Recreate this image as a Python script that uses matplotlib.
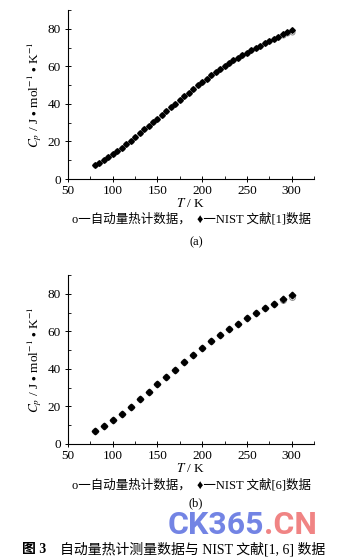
import matplotlib
matplotlib.use("Agg")
import matplotlib.pyplot as plt
from matplotlib.ticker import MultipleLocator

plt.rcParams['font.family'] = ['Liberation Serif', 'Noto Sans CJK SC', 'DejaVu Sans']
plt.rcParams['mathtext.fontset'] = 'stix'

# (a) data, every 5 K
T_a = [80, 85, 90, 95, 100, 105, 110, 115, 120, 125, 130, 135, 140, 145, 150,
       155, 160, 165, 170, 175, 180, 185, 190, 195, 200, 205, 210, 215, 220,
       225, 230, 235, 240, 245, 250, 255, 260, 265, 270, 275, 280, 285, 290,
       295, 300]
nist_a = [7.4, 8.5, 9.9, 11.5, 13.1, 14.9, 16.6, 18.4, 20.4, 22.5, 24.4, 26.4,
          28.3, 30.3, 32.2, 34.2, 36.1, 38.1, 40.0, 42.1, 44.1, 46.0, 48.0, 49.9,
          51.7, 53.5, 55.2, 56.8, 58.4, 60.0, 61.6, 63.2, 64.6, 66.0, 67.3, 68.5,
          69.7, 71.0, 72.2, 73.5, 74.7, 75.8, 77.0, 78.1, 79.3]
meas_a = [7.4, 8.5, 9.9, 11.5, 13.1, 14.9, 16.6, 18.4, 20.4, 22.5, 24.4, 26.4,
          28.3, 30.3, 32.2, 34.2, 36.1, 38.1, 40.0, 42.1, 44.1, 46.0, 48.0, 49.9,
          51.7, 53.5, 55.2, 56.8, 58.4, 60.0, 61.6, 63.2, 64.6, 66.0, 67.3, 68.5,
          69.7, 71.0, 72.2, 73.3, 74.4, 75.4, 76.5, 77.5, 78.5]

# (b) data, every 10 K
T_b = [80, 90, 100, 110, 120, 130, 140, 150, 160, 170, 180, 190, 200, 210, 220,
       230, 240, 250, 260, 270, 280, 290, 300]
nist_b = [6.7, 9.7, 12.7, 16.1, 19.8, 23.9, 27.8, 31.7, 35.8, 39.6, 43.7, 47.4,
          51.2, 54.7, 57.9, 61.1, 64.1, 67.1, 69.7, 72.4, 74.7, 77.2, 79.5]
meas_b = [6.7, 9.7, 12.7, 16.1, 19.8, 23.9, 27.8, 31.7, 35.8, 39.6, 43.7, 47.4,
          51.2, 54.7, 57.9, 61.1, 64.1, 67.1, 69.7, 72.2, 74.4, 76.5, 78.4]

xticks = [50, 100, 150, 200, 250, 300]
yticks = [0, 20, 40, 60, 80]
ylabel = r'$C_p$ / J $\bullet$ mol$^{-1}$ $\bullet$ K$^{-1}$'
xlabel = r'$T$ / K'
legend_a = 'o一自动量热计数据，  ♦一NIST 文献[1]数据'
legend_b = 'o一自动量热计数据，  ♦一NIST 文献[6]数据'
caption_a = '(a)'
caption_b = '(b)'
fig_caption_num = '图 3'
fig_caption = '自动量热计测量数据与 NIST 文献[1, 6] 数据'
watermark_a = 'CK365'
watermark_b = '.CN'

W, H = 343, 559
fig = plt.figure(figsize=(W / 100, H / 100), dpi=100)


def axrect(l, t, r, b):
    return [l / W, 1 - b / H, (r - l) / W, (b - t) / H]


def style(ax, T, meas, nist, ms):
    ax.plot(T, meas, linestyle='none', marker='o', markersize=ms,
            markerfacecolor='white', markeredgecolor='#888888', markeredgewidth=0.7)
    ax.plot(T, nist, linestyle='none', marker='D', markersize=ms * 0.8,
            color='black')
    ax.set_xlim(50, 325)
    ax.set_ylim(0, 90)
    ax.set_xticks(xticks)
    ax.set_yticks(yticks)
    ax.xaxis.set_minor_locator(MultipleLocator(25))
    ax.yaxis.set_minor_locator(MultipleLocator(10))
    ax.spines['top'].set_visible(False)
    ax.spines['right'].set_visible(False)
    for s in ('left', 'bottom'):
        ax.spines[s].set_linewidth(0.8)
    ax.tick_params(which='major', direction='inout', length=4, width=0.7,
                   labelsize=9.5)
    ax.tick_params(axis='y', which='major', pad=3)
    ax.tick_params(axis='x', which='major', pad=2)
    ax.tick_params(which='minor', direction='in', length=2, width=0.6)
    ax.set_ylabel(ylabel, fontsize=9.5, labelpad=3)
    ax.set_xlabel(xlabel, fontsize=9.5, labelpad=0)


ax1 = fig.add_axes(axrect(68, 10, 314, 179))
style(ax1, T_a, meas_a, nist_a, 3.6)
ax2 = fig.add_axes(axrect(68, 275, 314, 444))
style(ax2, T_b, meas_b, nist_b, 4.2)


def fy(y):
    return 1 - y / H


fig.text(191 / W, fy(219), legend_a, ha='center', va='center', fontsize=9)
fig.text(196 / W, fy(242), caption_a, ha='center', va='center', fontsize=9)
fig.text(191 / W, fy(485), legend_b, ha='center', va='center', fontsize=9)
fig.text(196 / W, fy(503), caption_b, ha='center', va='center', fontsize=9)

# watermark
wa = fig.text(168 / W, fy(525), watermark_a, ha='left', va='center', fontsize=23,
              fontweight='bold', family=['Roboto'], color='#5a6ee0', alpha=0.85)
fig.canvas.draw()
bb = wa.get_window_extent()
fig.text(bb.x1 / W, fy(525), watermark_b, ha='left', va='center', fontsize=23,
         fontweight='bold', family=['Roboto'], color='#ee6e6e', alpha=0.85)

fig.text(22 / W, fy(549), fig_caption_num, ha='left', va='center', fontsize=10,
         fontweight='bold')
fig.text(60 / W, fy(549), fig_caption, ha='left', va='center', fontsize=10)

fig.savefig('out.png', dpi=100)
